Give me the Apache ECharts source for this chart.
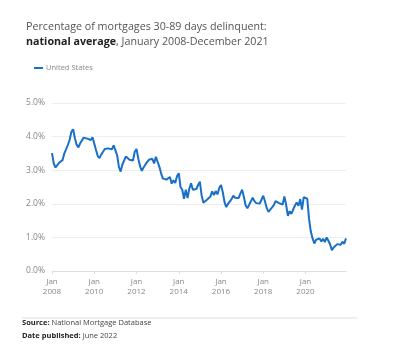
<!DOCTYPE html>
<html>
<head>
<meta charset="utf-8">
<script src="https://cdn.jsdelivr.net/npm/echarts@6/dist/echarts.min.js"></script>
<style>
    html, body { margin: 0; padding: 0; background: #fff; }
    #chart { width: 400px; height: 350px; }
</style>
</head>
<body>
<div id="chart"></div>
<script>
// monthly, Jan 2008 - Dec 2021
const startYear = 2008;
const endYear = 2021;
const delinquent = [
    // 2008
    3.51, 3.20, 3.08, 3.09, 3.22, 3.20, 3.30, 3.50, 3.62, 3.75, 3.90, 4.14,
    // 2009
    4.22, 3.95, 3.76, 3.68, 3.80, 3.85, 3.97, 3.98, 3.94, 3.96, 3.90, 3.98,
    // 2010
    4.00, 3.60, 3.42, 3.36, 3.47, 3.55, 3.63, 3.68, 3.65, 3.68, 3.62, 3.74,
    // 2011
    3.72, 3.45, 3.10, 2.96, 3.17, 3.22, 3.41, 3.43, 3.31, 3.36, 3.29, 3.55,
    // 2012
    3.63, 3.35, 3.12, 2.98, 3.08, 3.16, 3.24, 3.31, 3.36, 3.34, 3.20, 3.40,
    // 2013
    3.39, 3.10, 2.90, 2.75, 2.72, 2.72, 2.74, 2.80, 2.60, 2.70, 2.62, 2.82,
    // 2014
    2.91, 2.50, 2.42, 2.15, 2.42, 2.17, 2.45, 2.61, 2.42, 2.46, 2.44, 2.56,
    // 2015
    2.66, 2.25, 2.03, 1.98, 2.12, 2.10, 2.22, 2.37, 2.26, 2.38, 2.28, 2.47,
    // 2016
    2.56, 2.35, 2.05, 1.90, 2.00, 2.02, 2.14, 2.24, 2.18, 2.22, 2.17, 2.30,
    // 2017
    2.42, 2.20, 1.95, 1.87, 1.97, 1.97, 2.18, 2.08, 2.02, 2.02, 2.01, 2.00,
    // 2018
    2.24, 2.07, 1.87, 1.76, 1.83, 1.86, 1.96, 2.08, 2.03, 2.02, 2.02, 1.98,
    // 2019
    2.22, 1.97, 1.64, 1.78, 1.70, 1.83, 1.95, 2.04, 1.94, 2.14, 1.83, 2.20,
    // 2020
    2.22, 2.15, 1.55, 1.18, 0.97, 0.82, 0.93, 0.93, 0.97, 0.88, 0.96, 0.86,
    // 2021
    1.00, 0.90, 0.79, 0.62, 0.70, 0.68, 0.80, 0.85, 0.78, 0.87, 0.81, 0.97,
];

const months = [];
for (let y = startYear; y <= endYear; y++) {
    for (let m = 1; m <= 12; m++) months.push(`${y}-${m}`);
}

const chart = echarts.init(document.getElementById("chart"));
const font = "'Open Sans', sans-serif";

chart.setOption({
    animation: false,
    textStyle: { fontFamily: font },
    title: {
        left: 21,
        top: 14,
        text: "Percentage of mortgages 30-89 days delinquent:\n{b|national average}{n|, January 2008-December 2021}",
        textStyle: {
            fontSize: 10.7,
            fontWeight: "normal",
            color: "#555",
            lineHeight: 15,
            rich: {
                b: { fontSize: 10.7, fontWeight: "bold", color: "#222", fontFamily: font },
                n: { fontSize: 10.7, color: "#555", fontFamily: font },
            },
        },
    },
    legend: {
        left: 29,
        top: 59,
        itemWidth: 9,
        itemHeight: 2,
        itemGap: 4,
        icon: "rect",
        textStyle: { fontSize: 7.5, color: "#888", padding: [0, 0, 0, -2] },
        data: ["United States"],
    },
    grid: { left: 52, right: 54, top: 103, bottom: 79 },
    xAxis: {
        type: "category",
        boundaryGap: false,
        data: months,
        axisLine: { lineStyle: { color: "#ddd" } },
        axisTick: {
            show: true,
            length: 3,
            interval: (i) => i % 24 === 0,
            lineStyle: { color: "#ddd" },
        },
        axisLabel: {
            interval: (i) => i % 24 === 0,
            formatter: (v) => "Jan\n" + v.split("-")[0],
            fontSize: 8,
            color: "#888",
            lineHeight: 10,
            margin: 6,
        },
        splitLine: { show: false },
    },
    yAxis: {
        type: "value",
        min: 0,
        max: 5,
        interval: 1,
        axisLabel: {
            formatter: (v) => v.toFixed(1) + "%",
            fontSize: 8.5,
            color: "#888",
            margin: 7,
        },
        splitLine: { lineStyle: { color: "#eee" } },
    },
    series: [
        {
            name: "United States",
            type: "line",
            data: delinquent,
            showSymbol: false,
            lineStyle: { width: 2, color: "#1a6fc6" },
            itemStyle: { color: "#1a6fc6" },
        },
    ],
    graphic: [
        {
            type: "line",
            shape: { x1: 22, y1: 318, x2: 357, y2: 318 },
            style: { stroke: "#ddd", lineWidth: 1 },
        },
        {
            type: "text",
            left: 22,
            top: 319,
            style: {
                text: "{b|Source:} National Mortgage Database",
                fontSize: 7.5,
                fill: "#444",
                fontFamily: font,
                rich: { b: { fontWeight: "bold", fontSize: 7.5, fill: "#222", fontFamily: font } },
            },
        },
        {
            type: "text",
            left: 22,
            top: 332,
            style: {
                text: "{b|Date published:} June 2022",
                fontSize: 7.5,
                fill: "#444",
                fontFamily: font,
                rich: { b: { fontWeight: "bold", fontSize: 7.5, fill: "#222", fontFamily: font } },
            },
        },
    ],
});
</script>
</body>
</html>
